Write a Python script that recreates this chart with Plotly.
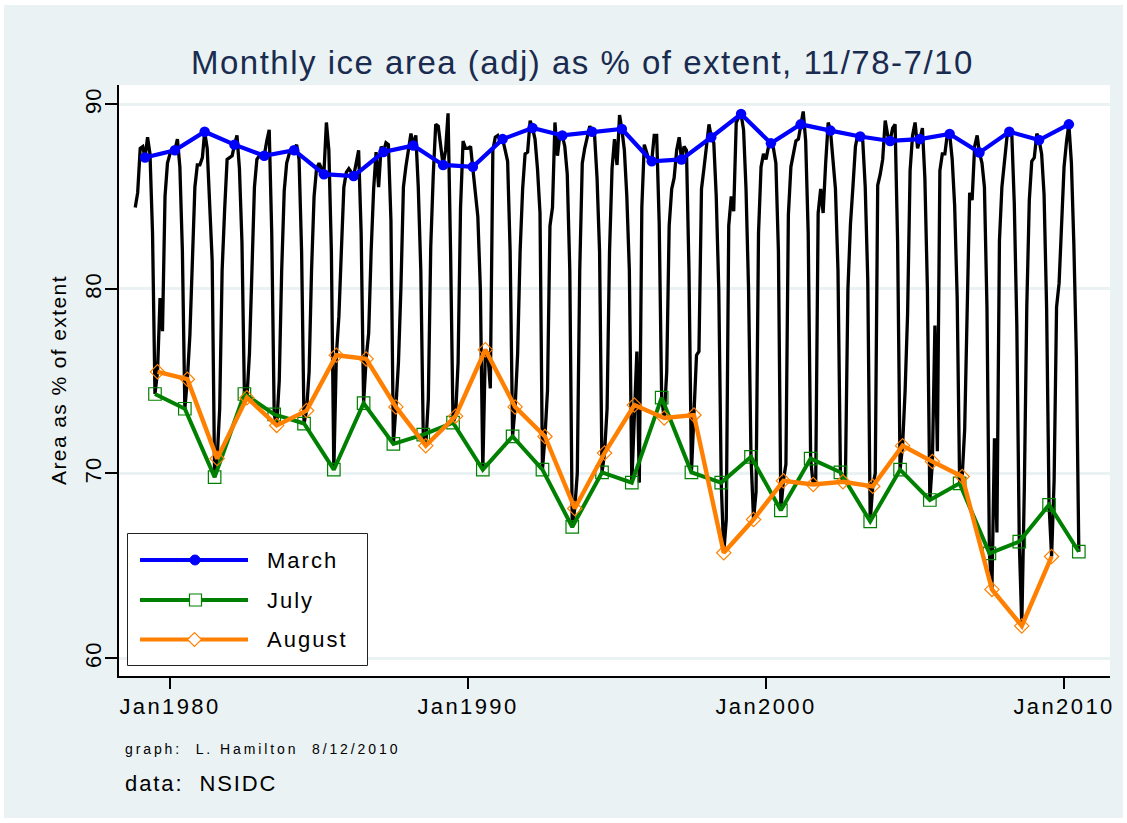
import pandas as pd
import plotly.graph_objects as go

# ---------------- data: monthly ice area as % of extent (Jan..Dec) ----------------
y1978 = [None, None, None, None, None, None, None, None, None, None, 84.4, 85.2]
y1979 = [87.6, 87.7, 87.1, 88.2, 87.3, 83.0, 74.3, 75.5, 79.5, 77.7, 85.0, 86.8]
y1980 = [87.3, 87.5, 87.5, 88.1, 86.6, 82.0, 73.5, 75.1, 77.5, 82.0, 85.5, 86.7]
y1981 = [86.7, 87.1, 88.5, 87.6, 85.0, 81.5, 69.8, 70.8, 73.5, 81.0, 84.3, 87.0]
y1982 = [87.1, 87.2, 87.8, 88.3, 86.5, 82.5, 74.3, 74.1, 76.5, 81.5, 85.5, 87.0]
y1983 = [87.2, 87.3, 87.2, 88.0, 88.6, 83.0, 73.2, 72.6, 75.0, 81.0, 85.3, 86.8]
y1984 = [87.3, 87.6, 87.5, 87.8, 87.0, 82.0, 72.7, 73.4, 75.5, 81.0, 85.0, 86.5]
y1985 = [86.8, 86.5, 86.2, 89.0, 87.5, 82.0, 70.2, 76.4, 78.5, 82.0, 85.5, 86.3]
y1986 = [86.5, 86.3, 86.1, 86.8, 87.5, 83.0, 73.8, 76.2, 77.6, 82.0, 85.4, 87.4]
y1987 = [85.5, 87.7, 87.4, 87.9, 87.8, 83.7, 71.6, 73.6, 76.0, 80.0, 85.5, 86.6]
y1988 = [87.5, 88.4, 87.75, 88.3, 85.5, 81.0, 72.1, 71.5, 74.0, 82.3, 86.2, 88.9]
y1989 = [88.8, 87.5, 86.7, 87.5, 89.5, 82.0, 72.75, 73.1, 76.0, 84.4, 88.0, 87.6]
y1990 = [87.6, 87.7, 86.6, 85.0, 83.9, 80.0, 70.2, 76.7, 76.5, 74.6, 87.5, 88.2]
y1991 = [88.3, 88.0, 88.1, 87.5, 86.9, 82.0, 72.0, 73.6, 76.5, 82.0, 85.4, 87.3]
y1992 = [87.4, 89.1, 88.7, 88.1, 86.5, 84.1, 70.2, 72.0, 74.5, 83.4, 84.4, 89.0]
y1993 = [87.2, 88.4, 88.3, 87.7, 86.2, 81.0, 67.1, 68.1, 70.0, 81.0, 86.8, 87.6]
y1994 = [88.2, 88.8, 88.5, 88.3, 86.0, 82.0, 70.05, 71.1, 73.5, 82.0, 86.5, 88.1]
y1995 = [86.7, 89.4, 88.65, 87.5, 85.0, 81.0, 69.5, 73.7, 76.6, 69.5, 84.4, 87.8]
y1996 = [87.3, 86.9, 86.9, 88.3, 88.3, 83.5, 74.1, 73.0, 75.5, 83.4, 85.4, 86.0]
y1997 = [87.5, 88.2, 87.0, 87.7, 87.5, 81.0, 70.06, 73.16, 76.4, 76.6, 85.4, 86.5]
y1998 = [87.7, 88.9, 88.2, 87.9, 85.0, 80.0, 69.5, 65.7, 67.5, 83.4, 85.0, 84.2]
y1999 = [89.0, 89.3, 89.46, 88.6, 85.4, 80.0, 70.9, 67.5, 69.0, 83.0, 86.6, 87.3]
y2000 = [87.0, 87.7, 87.87, 87.6, 86.8, 82.0, 68.0, 69.6, 70.5, 84.0, 86.6, 87.3]
y2001 = [88.0, 88.1, 88.9, 89.6, 88.0, 83.0, 70.8, 69.4, 69.5, 84.1, 85.4, 84.1]
y2002 = [86.8, 89.0, 88.56, 87.1, 85.4, 81.0, 70.06, 69.55, 70.0, 80.0, 83.5, 85.5]
y2003 = [87.7, 88.4, 88.24, 88.0, 85.5, 80.5, 67.4, 69.3, 70.0, 85.6, 86.2, 87.0]
y2004 = [89.1, 88.3, 88.0, 88.7, 88.9, 82.5, 70.2, 71.5, 74.5, 78.6, 86.4, 88.3]
y2005 = [89.0, 87.6, 88.1, 88.7, 86.0, 80.0, 68.56, 70.64, 78.0, 71.2, 86.4, 87.3]
y2006 = [87.3, 88.4, 88.38, 87.0, 84.5, 79.5, 69.46, 69.83, 72.4, 78.3, 85.2, 84.8]
y2007 = [87.7, 88.3, 87.37, 86.8, 85.5, 79.0, 65.67, 63.72, 71.9, 66.8, 82.6, 85.5]
y2008 = [87.0, 88.2, 88.5, 88.3, 84.6, 78.0, 66.31, 61.74, 69.2, 79.0, 84.8, 86.9]
y2009 = [87.1, 88.4, 88.05, 87.3, 85.1, 79.0, 68.3, 65.5, 69.6, 79.0, 80.3, 83.9]
y2010 = [86.6, 88.0, 88.9, 86.8, 82.4, 76.3, 65.76]

years = list(range(1978, 2011))
rows = [y1978, y1979, y1980, y1981, y1982, y1983, y1984, y1985, y1986, y1987,
        y1988, y1989, y1990, y1991, y1992, y1993, y1994, y1995, y1996, y1997,
        y1998, y1999, y2000, y2001, y2002, y2003, y2004, y2005, y2006, y2007,
        y2008, y2009, y2010]

tick_dates = ["1980-01-01", "1990-01-01", "2000-01-01", "2010-01-01"]
tick_labels = ["Jan1980", "Jan1990", "Jan2000", "Jan2010"]
y_ticks = [60, 70, 80, 90]

# ---------------- build table ----------------
recs = []
for yr, row in zip(years, rows):
    for m, v in enumerate(row, start=1):
        if v is not None:
            recs.append((pd.Timestamp(year=yr, month=m, day=1), m, v))
df = pd.DataFrame(recs, columns=["date", "month", "ratio"])
mar = df[df.month == 3]
jul = df[df.month == 7]
aug = df[df.month == 8]

FONT = "Liberation Sans, Arial, sans-serif"
BG = "#EAF2F3"
BLUE, GREEN, ORANGE = "#0000FF", "#008000", "#FF8000"

fig = go.Figure()
fig.add_trace(go.Scatter(x=df.date, y=df.ratio, mode="lines",
                         line=dict(color="black", width=3.3), showlegend=False))
fig.add_trace(go.Scatter(x=mar.date, y=mar.ratio, mode="lines+markers", name="March",
                         line=dict(color=BLUE, width=4.2),
                         marker=dict(symbol="circle", size=10.5, color=BLUE), showlegend=False))
fig.add_trace(go.Scatter(x=jul.date, y=jul.ratio, mode="lines+markers", name="July",
                         line=dict(color=GREEN, width=4),
                         marker=dict(symbol="square-open", size=12.5, color=GREEN,
                                     line=dict(width=1.2, color=GREEN)), showlegend=False))
fig.add_trace(go.Scatter(x=aug.date, y=aug.ratio, mode="lines+markers", name="August",
                         line=dict(color=ORANGE, width=4.4),
                         marker=dict(symbol="diamond-open", size=11, color=ORANGE,
                                     line=dict(width=1.2, color=ORANGE)), showlegend=False))

# ---------------- geometry helpers (pixel -> paper) ----------------
Wf, Hf = 1127, 823
L, T, R, B = 119, 85, 1110, 676
PW, PH = R - L, B - T
def fx(px):
    return (px - L) / PW
def fy(py):
    return (B - py) / PH

def sp(text, ls):
    return '<span style="letter-spacing:%spx">%s</span>' % (ls, text)

shapes = [
    dict(type="rect", xref="paper", yref="paper", x0=fx(4), x1=fx(1123), y0=fy(818), y1=fy(5),
         fillcolor=BG, line=dict(width=0), layer="below"),
    dict(type="rect", xref="paper", yref="paper", x0=0, x1=1, y0=0, y1=1,
         fillcolor="white", line=dict(width=0), layer="below"),
    # legend box
    dict(type="rect", xref="paper", yref="paper", x0=fx(127.5), x1=fx(367.5), y0=fy(665.5), y1=fy(533.5),
         fillcolor="white", line=dict(color="#222222", width=1), layer="above"),
]
legend_items = [("March", BLUE, 560, "circle"), ("July", GREEN, 600, "square"), ("August", ORANGE, 639.5, "diamond")]
annotations = []
for name, col, yy, sym in legend_items:
    shapes.append(dict(type="line", xref="paper", yref="paper", x0=fx(140), x1=fx(248), y0=fy(yy), y1=fy(yy),
                       line=dict(color=col, width=4.2), layer="above"))
    if sym == "circle":
        shapes.append(dict(type="circle", xref="paper", yref="paper", x0=fx(190), x1=fx(200),
                           y0=fy(yy + 5), y1=fy(yy - 5), fillcolor=col, line=dict(color=col, width=1), layer="above"))
    elif sym == "square":
        shapes.append(dict(type="rect", xref="paper", yref="paper", x0=fx(189.5), x1=fx(201.5),
                           y0=fy(yy + 6), y1=fy(yy - 6), fillcolor="white", line=dict(color=col, width=1.2), layer="above"))
    else:
        cx, cy, r = 194.5, yy, 7
        path = "M %f %f L %f %f L %f %f L %f %f Z" % (fx(cx - r), fy(cy), fx(cx), fy(cy - r),
                                                      fx(cx + r), fy(cy), fx(cx), fy(cy + r))
        shapes.append(dict(type="path", xref="paper", yref="paper", path=path,
                           fillcolor="white", line=dict(color=col, width=1.2), layer="above"))
    annotations.append(dict(xref="paper", yref="paper", x=fx(265), y=fy(yy), xanchor="left", yanchor="middle",
                            text=sp(name, 2), showarrow=False, font=dict(family=FONT, size=22, color="black")))

annotations += [
    dict(xref="paper", yref="paper", x=fx(582.5), y=fy(62), xanchor="center", yanchor="middle",
         text=sp("Monthly ice area (adj) as % of extent, 11/78-7/10", 1.5), showarrow=False,
         font=dict(family=FONT, size=33, color="#1A2B50")),
    dict(xref="paper", yref="paper", x=fx(58), y=fy(380), xanchor="center", yanchor="middle", textangle=-90,
         text=sp("Area as % of extent", 1.4), showarrow=False, font=dict(family=FONT, size=21, color="black")),
    dict(xref="paper", yref="paper", x=fx(123), y=fy(749), xanchor="left", yanchor="middle",
         text=sp("graph:  L. Hamilton  8/12/2010", 2.9), showarrow=False, font=dict(family=FONT, size=14, color="black")),
    dict(xref="paper", yref="paper", x=fx(123), y=fy(783), xanchor="left", yanchor="middle",
         text=sp("data:  NSIDC", 1.9), showarrow=False, font=dict(family=FONT, size=22, color="black")),
]

fig.update_layout(
    width=Wf, height=Hf,
    margin=dict(l=L, r=Wf - R, t=T, b=Hf - B, pad=0),
    paper_bgcolor="white", plot_bgcolor="white",
    showlegend=False, shapes=shapes, annotations=annotations,
    font=dict(family=FONT, color="black"),
)
fig.update_xaxes(type="date", range=["1978-04-16", "2011-07-18"],
                 tickvals=tick_dates, ticktext=[sp(t, 2.4) for t in tick_labels],
                 showgrid=False, zeroline=False, showline=True, linecolor="black", linewidth=2,
                 ticks="outside", ticklen=11, tickwidth=2, tickcolor="black", ticklabelstandoff=-1,
                 tickfont=dict(family=FONT, size=22, color="black"))
fig.update_yaxes(range=[59.03, 91.03], tickvals=y_ticks, ticktext=[sp(str(v), 1) for v in y_ticks],
                 tickangle=-90, showgrid=True, gridcolor=BG, gridwidth=3,
                 zeroline=False, showline=True, linecolor="black", linewidth=2,
                 ticks="outside", ticklen=12, tickwidth=2, tickcolor="black", ticklabelstandoff=-5,
                 tickfont=dict(family=FONT, size=22, color="black"))

fig.write_html("out.html", config={"displayModeBar": False},
               post_script="document.body.style.margin='0px';document.body.style.overflow='hidden';")
